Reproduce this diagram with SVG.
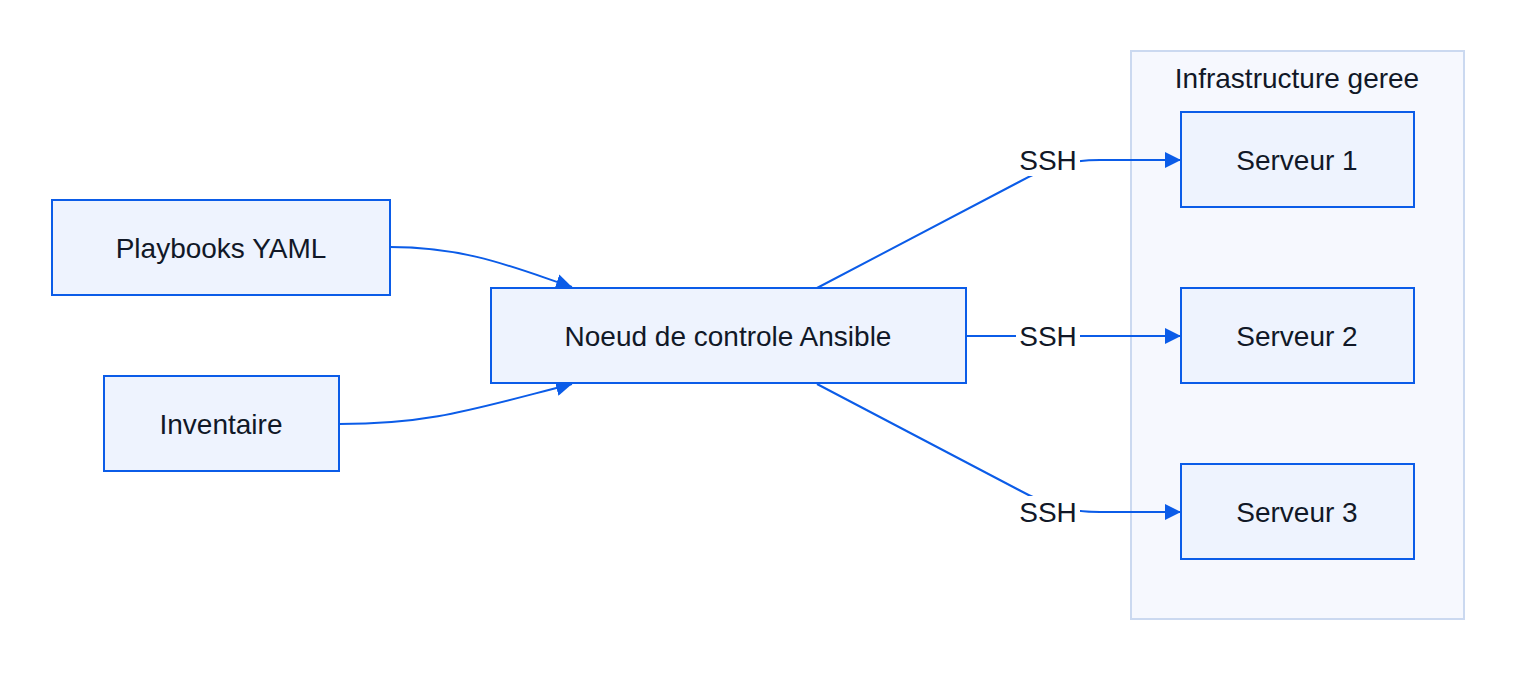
<svg xmlns="http://www.w3.org/2000/svg" width="1516" height="680" viewBox="0 0 1516 680">
<defs>
<style>
.n{fill:#eef3fe;stroke:#0b5ce8;stroke-width:2}
.t{font-family:"Liberation Sans",Arial,sans-serif;font-size:28px;fill:#111827;text-anchor:middle;dominant-baseline:central}
.e{fill:none;stroke:#0b5ce8;stroke-width:2}
.lb{fill:#fff}
</style>
<marker id="a" viewBox="0 0 10 10" refX="10" refY="5" markerWidth="8" markerHeight="8" markerUnits="userSpaceOnUse" orient="auto"><path d="M0,0L10,5L0,10z" fill="#0b5ce8"/></marker>
<marker id="b" viewBox="0 0 10 10" refX="10" refY="5" markerWidth="16" markerHeight="16" markerUnits="userSpaceOnUse" orient="auto"><path d="M0,0L10,5L0,10z" fill="#0b5ce8"/></marker>
</defs>
<rect width="1516" height="680" fill="#fff"/>
<g id="cluster"><rect x="1131" y="51" width="333" height="568" fill="#f6f8fe" stroke="#cbd9f0" stroke-width="2"/><text class="t" x="1297" y="78">Infrastructure geree</text></g>
<g id="edges">
<path class="e" d="M390,247 C470,247 520,270 572,287" marker-end="url(#b)"/>
<path class="e" d="M339,424 C430,424 470,410 572,384" marker-end="url(#b)"/>
<path class="e" d="M817,288 L1017,183 C1050,165 1070,160 1100,160 L1181,160" marker-end="url(#b)"/>
<path class="e" d="M966,336 L1181,336" marker-end="url(#b)"/>
<path class="e" d="M817,384 L1017,489 C1050,507 1070,512 1100,512 L1181,512" marker-end="url(#b)"/>
<rect class="lb" x="1016" y="144" width="64" height="32"/><text class="t" x="1048" y="160">SSH</text>
<rect class="lb" x="1016" y="320" width="64" height="32"/><text class="t" x="1048" y="336">SSH</text>
<rect class="lb" x="1016" y="496" width="64" height="32"/><text class="t" x="1048" y="512">SSH</text>
</g>
<g id="playbooks"><rect class="n" x="52" y="200" width="338" height="95"/><text class="t" x="221" y="248">Playbooks YAML</text></g>
<g id="inventaire"><rect class="n" x="104" y="376" width="235" height="95"/><text class="t" x="221" y="424">Inventaire</text></g>
<g id="noeud"><rect class="n" x="491" y="288" width="475" height="95"/><text class="t" x="728" y="336">Noeud de controle Ansible</text></g>
<g id="s1"><rect class="n" x="1181" y="112" width="233" height="95"/><text class="t" x="1297" y="160">Serveur 1</text></g>
<g id="s2"><rect class="n" x="1181" y="288" width="233" height="95"/><text class="t" x="1297" y="336">Serveur 2</text></g>
<g id="s3"><rect class="n" x="1181" y="464" width="233" height="95"/><text class="t" x="1297" y="512">Serveur 3</text></g>
</svg>
